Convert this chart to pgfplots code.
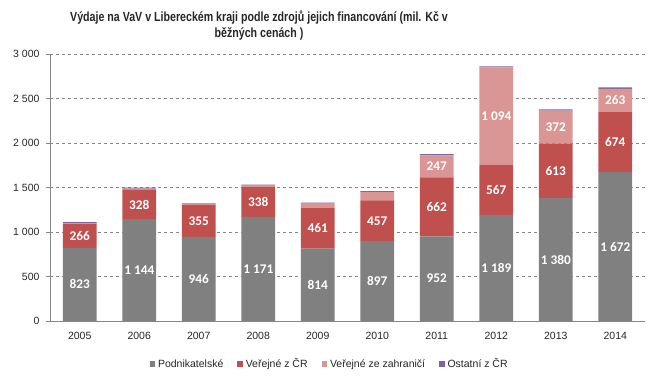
\documentclass[border=0pt]{standalone}
\usepackage{pgfplots}
\pgfplotsset{compat=1.18}
\usepackage{pgfplotstable}
\usepackage{fontspec}
\setmainfont{Liberation Sans}
\newfontfamily\titlefont[FakeStretch=0.8]{Liberation Sans}
\newfontfamily\labfont{Carlito}
\definecolor{cpod}{HTML}{808080}
\definecolor{cver}{HTML}{C0504D}
\definecolor{czah}{HTML}{D99694}
\definecolor{cost}{HTML}{8064A2}
\definecolor{cgrid}{HTML}{868686}
\pgfplotsset{
  sqlegend/.style={legend image code/.code={\fill[##1] (0bp,-2.7bp) rectangle (5.4bp,2.7bp);}},
  midlab/.style={nodes near coords, point meta=explicit symbolic,
    every node near coord/.style={anchor=center, text=white,
      font=\labfont\bfseries\fontsize{13.3bp}{14bp}\selectfont}},
}

\pgfplotstableread{
x y lab
0 823 823
1 1144 {1 144}
2 946 946
3 1171 {1 171}
4 814 814
5 897 897
6 952 952
7 1189 {1 189}
8 1380 {1 380}
9 1672 {1 672}
}\podn
\pgfplotstableread{
x y lab
0 266 266
1 328 328
2 355 355
3 338 338
4 461 461
5 457 457
6 662 662
7 567 567
8 613 613
9 674 674
}\verej
\pgfplotstableread{
x y lab
0 10 {}
1 15 {}
2 12 {}
3 12 {}
4 45 {}
5 95 {}
6 247 247
7 1094 {1 094}
8 372 372
9 263 263
}\zahr
\pgfplotstableread{
x y
0 12
1 12
2 10
3 10
4 10
5 10
6 15
7 10
8 12
9 15
}\ostat

\begin{document}
\begin{tikzpicture}
\useasboundingbox (0,0) rectangle (657bp,379bp);
\node[font=\titlefont\bfseries\fontsize{13.3bp}{15bp}\selectfont, text=black!85] at (259bp,361bp) {Výdaje na VaV v Libereckém kraji podle zdrojů jejich financování (mil. Kč v};
\node[font=\titlefont\bfseries\fontsize{13.3bp}{15bp}\selectfont, text=black!85] at (259bp,345bp) {běžných cenách )};
\begin{axis}[
  at={(50bp,58bp)}, anchor=south west,
  scale only axis, width=595bp, height=267bp,
  ybar stacked, bar width=0.57,
  xmin=-0.5, xmax=9.5, ymin=0, ymax=3000,
  xtick={0,...,9},
  xticklabels={2005,2006,2007,2008,2009,2010,2011,2012,2013,2014},
  ytick={0,500,...,3000},
  axis x line*=bottom, axis y line*=left,
  axis line style={draw=cgrid},
  x tick style={draw=none},
  y tick style={draw=cgrid},
  tick align=outside, major tick length=4bp,
  ymajorgrids, grid style={dashed, cgrid},
  tick label style={font=\fontsize{10.5bp}{12bp}\selectfont, text=black!85},
  yticklabel style={xshift=-3bp},
  xticklabel style={yshift=-4bp},
  /pgf/number format/1000 sep={\ },
  /pgf/number format/assume math mode=true,
  legend style={at={(0.47,-0.161)}, anchor=center, draw=none,
    legend columns=4, font=\fontsize{10.5bp}{12bp}\selectfont, text=black!85,
    /tikz/every even column/.append style={column sep=12bp},
    /tikz/every odd column/.append style={column sep=1bp}},
]
\addplot[fill=cpod, draw=none, sqlegend, midlab] table[x=x,y=y,meta=lab]{\podn};
\addplot[fill=cver, draw=none, sqlegend, midlab] table[x=x,y=y,meta=lab]{\verej};
\addplot[fill=czah, draw=none, sqlegend, midlab] table[x=x,y=y,meta=lab]{\zahr};
\addplot[fill=cost, draw=none, sqlegend] table[x=x,y=y]{\ostat};
\legend{Podnikatelské, Veřejné z ČR, Veřejné ze zahraničí, Ostatní z ČR}
\end{axis}
\end{tikzpicture}
\end{document}
